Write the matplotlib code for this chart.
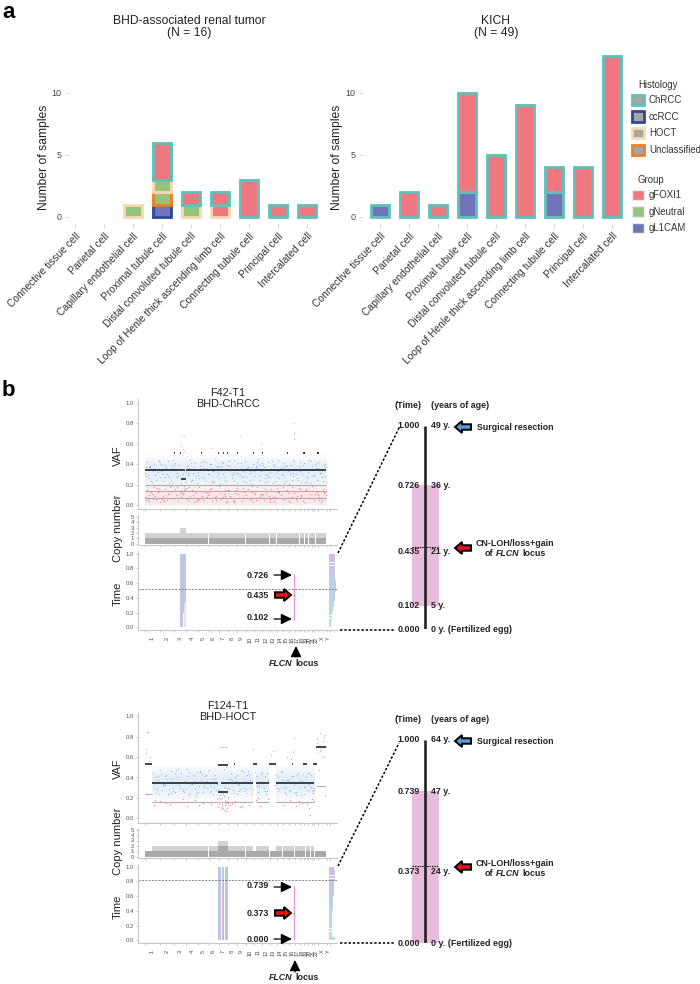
import matplotlib
matplotlib.use("Agg")
import numpy as np
import matplotlib.pyplot as plt
from matplotlib.patches import Patch, FancyArrow
from matplotlib.colors import LinearSegmentedColormap, to_rgb

plt.rcParams['font.family'] = ['Liberation Sans', 'DejaVu Sans']
W, H = 700, 984

# ---------- panel a data ----------
cell_types = ["Connective tissue cell", "Parietal cell", "Capillary endothelial cell",
              "Proximal tubule cell", "Distal convoluted tubule cell",
              "Loop of Henle thick ascending limb cell", "Connecting tubule cell",
              "Principal cell", "Intercalated cell"]
bhd_ccrcc_l1cam = [0, 0, 0, 1, 0, 0, 0, 0, 0]
bhd_unclass_neutral = [0, 0, 0, 1, 0, 0, 0, 0, 0]
bhd_hoct_neutral = [0, 0, 1, 1, 1, 0, 0, 0, 0]
bhd_hoct_foxi1 = [0, 0, 0, 0, 0, 1, 0, 0, 0]
bhd_chrcc_foxi1 = [0, 0, 0, 3, 1, 1, 3, 1, 1]
kich_chrcc_l1cam = [1, 0, 0, 2, 0, 0, 2, 0, 0]
kich_chrcc_foxi1 = [0, 2, 1, 8, 5, 9, 2, 4, 13]

hist_colors = {"ChRCC": "#62BFB8", "ccRCC": "#2B4A9B", "HOCT": "#F9D9B0", "Unclassified": "#EE7F22"}
group_colors = {"gFOXI1": "#F0767F", "gNeutral": "#93C47D", "gL1CAM": "#6F74B8"}

# ---------- panel b data ----------
chrom_names = [str(i) for i in range(1, 23)] + ["X", "Y"]
chrom_len = [249, 243, 198, 191, 181, 171, 159, 146, 141, 135, 135, 133,
             115, 107, 102, 90, 81, 78, 59, 63, 48, 51, 155, 59]

# haze levels per VAF bin (opacity of the dense clouds)
f42_blue_haze = [0, 0, 0, 0.02, 0.10, 0.16, 0.18, 0.16, 0.10, 0.01]
f42_red_haze = [0.10, 0.15, 0.12, 0.07, 0.0, 0, 0, 0, 0, 0]
f124_blue_haze = [0, 0, 0, 0.01, 0.08, 0.15, 0.18, 0.18, 0.13, 0.05]
f124_red_haze = [0, 0.005, 0.03, 0.04, 0.01, 0, 0, 0, 0, 0]

f42_blue_x = [12, 40, 66, 95, 120, 150, 180, 205, 232, 262, 285, 312, 340, 368, 395, 420, 450, 478, 505, 532,
              560, 600, 625, 650, 675, 700, 728, 755, 780, 812, 840, 868, 895, 925, 950, 978, 1005, 1030, 1060,
              1090, 1118, 1145, 1172, 1200, 1228, 1255, 1282, 1310, 1338, 1365, 1392, 1420, 1446, 1472, 1500,
              1528, 1555, 1580, 1610, 1638, 1665, 1692, 1720, 1748, 1775, 1802, 1830, 1858, 1885, 1912, 1940,
              1968, 1995, 2022, 2050, 2078, 2106, 2132, 2160, 2188, 2215, 2242, 2270, 2298, 2325, 2352, 2380,
              2408, 2435, 2462, 2490, 2518, 2545, 2572, 2600, 2628, 2655, 2682, 2710, 2738, 2765, 2792, 2820,
              2848, 2875, 2902, 2930, 2958, 2985, 3012, 25, 110, 245, 380, 515, 770, 905, 1075, 1210, 1345,
              1485, 1625, 1760, 1900, 2035, 2175, 2310, 2445, 2585, 2720, 2860, 2995]
f42_blue_y = [0.31, 0.42, 0.26, 0.37, 0.23, 0.40, 0.29, 0.35, 0.44, 0.27, 0.33, 0.24, 0.39, 0.30, 0.43, 0.26,
              0.36, 0.22, 0.41, 0.31, 0.28, 0.20, 0.26, 0.16, 0.23, 0.38, 0.29, 0.44, 0.25, 0.35, 0.41, 0.22,
              0.32, 0.38, 0.27, 0.43, 0.24, 0.36, 0.30, 0.40, 0.23, 0.33, 0.45, 0.28, 0.37, 0.21, 0.42, 0.30,
              0.25, 0.39, 0.34, 0.44, 0.26, 0.31, 0.38, 0.22, 0.41, 0.29, 0.35, 0.24, 0.43, 0.27, 0.37, 0.31,
              0.21, 0.40, 0.28, 0.36, 0.45, 0.25, 0.33, 0.39, 0.23, 0.30, 0.42, 0.27, 0.35, 0.22, 0.38, 0.31,
              0.44, 0.26, 0.36, 0.29, 0.41, 0.24, 0.33, 0.21, 0.39, 0.28, 0.43, 0.30, 0.25, 0.37, 0.23, 0.34,
              0.41, 0.27, 0.32, 0.44, 0.22, 0.38, 0.29, 0.36, 0.25, 0.42, 0.31, 0.27, 0.39, 0.23, 0.37, 0.24,
              0.43, 0.28, 0.35, 0.41, 0.26, 0.30, 0.38, 0.23, 0.44, 0.27, 0.33, 0.40, 0.29, 0.24, 0.37, 0.31,
              0.42, 0.26, 0.35, 0.40]
f42_blue_x2 = [30, 88, 135, 196, 250, 298, 355, 410, 465, 520, 572, 715, 768, 825, 880, 938,
               995, 1050, 1105, 1160, 1218, 1272, 1325, 1380, 1435, 1490, 1545, 1598, 1652, 1706, 1760, 1815,
               1870, 1925, 1980, 2035, 2090, 2145, 2200, 2255, 2310, 2365, 2420, 2475, 2530, 2585, 2640, 2695,
               2750, 2805, 2860, 2915, 2970, 3018, 55, 170, 275, 430, 610, 640, 745, 855, 1015, 1135,
               1240, 1405, 1515, 1680, 1790, 1950, 2060, 2225, 2340, 2455, 2610, 2775, 2890, 3005, 75, 225,
               330, 490, 660, 800, 965, 1120, 1300, 1460, 1640, 1850, 2010, 2120, 2280, 2500, 2660, 2830]
f42_blue_y2 = [.28, .38, .33, .25, .41, .30, .36, .22, .44, .27, .39, .31, .24, .37, .29, .42,
               .26, .34, .40, .23, .31, .38, .27, .43, .35, .24, .30, .41, .28, .36, .25, .33,
               .42, .29, .37, .24, .32, .40, .27, .35, .22, .38, .30, .44, .26, .33, .39, .23,
               .35, .28, .41, .31, .24, .37, .29, .35, .40, .24, .22, .30, .36, .28, .42, .33,
               .26, .38, .31, .23, .35, .41, .27, .33, .39, .25, .30, .43, .36, .28, .37, .32,
               .27, .39, .19, .31, .36, .24, .41, .29, .33, .38, .26, .43, .30, .35, .23, .40]
f42_red_x = [8, 42, 80, 118, 150, 190, 225, 262, 300, 335, 372, 410, 445, 480, 520, 558, 600, 640, 680, 712,
             750, 788, 825, 862, 900, 938, 975, 1012, 1050, 1088, 1125, 1162, 1200, 1238, 1275, 1312, 1350,
             1388, 1425, 1462, 1500, 1538, 1575, 1612, 1650, 1688, 1725, 1762, 1800, 1838, 1875, 1912, 1950,
             1988, 2025, 2062, 2110, 2148, 2185, 2222, 2260, 2298, 2335, 2372, 2410, 2448, 2485, 2522, 2560,
             2598, 2635, 2672, 2710, 2748, 2785, 2822, 2860, 2898, 2935, 2972, 3010, 60, 210, 320, 460, 610,
             730, 880, 1030, 1180, 1330, 1480, 1630, 1780, 1930, 2080, 2240, 2390, 2540, 2690, 2840, 2990]
f42_red_y = [0.08, 0.15, 0.04, 0.11, 0.18, 0.06, 0.13, 0.03, 0.09, 0.16, 0.05, 0.12, 0.19, 0.07, 0.10, 0.04,
             0.14, 0.11, 0.17, 0.06, 0.09, 0.15, 0.03, 0.12, 0.18, 0.07, 0.05, 0.13, 0.10, 0.16, 0.04, 0.08,
             0.14, 0.19, 0.06, 0.11, 0.03, 0.15, 0.09, 0.05, 0.12, 0.17, 0.07, 0.04, 0.13, 0.10, 0.16, 0.06,
             0.03, 0.11, 0.18, 0.08, 0.14, 0.05, 0.12, 0.09, 0.16, 0.04, 0.07, 0.13, 0.10, 0.18, 0.05, 0.15,
             0.03, 0.08, 0.12, 0.06, 0.17, 0.10, 0.04, 0.14, 0.07, 0.11, 0.19, 0.05, 0.13, 0.08, 0.03, 0.16,
             0.10, 0.06, 0.17, 0.04, 0.14, 0.08, 0.18, 0.05, 0.12, 0.09, 0.15, 0.03, 0.07, 0.19, 0.11, 0.06,
             0.13, 0.04, 0.09, 0.16, 0.07, 0.12]
f42_red_x2 = [25, 100, 170, 245, 318, 392, 465, 540, 620, 670, 730, 805, 880, 955, 1030, 1105,
              1180, 1255, 1330, 1405, 1480, 1555, 1630, 1705, 1780, 1855, 1930, 2005, 2080, 2155, 2230, 2305,
              2380, 2455, 2530, 2605, 2680, 2755, 2830, 2905, 2980, 70, 280, 505, 850, 1070, 1295, 1515,
              1745, 1965, 2195, 2425, 2650, 2880, 3015, 140, 425, 590, 955, 1370, 1820, 2120, 2580, 2945]
f42_red_y2 = [.05, .13, .09, .16, .04, .11, .07, .18, .12, .15, .04, .10, .06, .14, .08, .17,
              .05, .12, .09, .15, .04, .11, .17, .07, .13, .05, .10, .16, .03, .08, .14, .06,
              .12, .18, .04, .09, .15, .07, .11, .05, .13, .10, .06, .16, .04, .12, .08, .15,
              .05, .11, .17, .07, .03, .10, .14, .06, .18, .13, .09, .04, .12, .07, .16, .05]
f42_other_x = [2482, 2482, 2482, 2484, 1590, 1930, 1120, 620, 660, 600, 640, 650, 2470]
f42_other_y = [0.80, 0.72, 0.70, 0.65, 0.68, 0.61, 0.56, 0.68, 0.68, 0.58, 0.55, 0.53, 0.34]
f42_main_x0 = [0, 690]
f42_main_x1 = [670, 3020]
f42_main_y = [0.34, 0.34]
f42_cn_low_x0 = [600]
f42_cn_low_x1 = [690]
f42_cn_low_y = [0.255]
f42_sub_y = [0.20, 0.135, 0.07]
f42_dash_x = [494, 590, 938, 1227, 1310, 1376, 1532, 1809, 1948, 2364, 2642, 2650, 2864, 2875]
f42_dash_y = [0.51] * 14

f124_blue_x = [135, 160, 190, 220, 250, 285, 315, 350, 380, 412, 445, 478, 510, 545, 578, 610, 642, 675, 708,
               740, 772, 805, 838, 870, 902, 935, 968, 1000, 1032, 1065, 1098, 1130, 1162, 1195, 1225, 1245,
               1268, 1290, 1312, 1335, 1358, 1380, 1410, 1440, 1472, 1505, 1538, 1570, 1602, 1635, 1668, 1700,
               1732, 1765, 1795, 1860, 1890, 1922, 1955, 1988, 2020, 2055, 2190, 2222, 2255, 2288, 2320, 2352,
               2385, 2418, 2450, 2482, 2515, 2548, 2580, 2612, 2645, 2678, 2710, 2742, 2775, 2805, 200, 330,
               465, 600, 730, 860, 990, 1120, 1260, 1400, 1530, 1660, 1780, 1900, 2035, 2240, 2370, 2500, 2630,
               2760, 2860, 2880, 2900, 2920, 2940, 2960, 2980, 3000, 3015, 2870, 2910, 2950, 2990, 15, 40, 70,
               95, 30, 60, 1800, 1830, 2100, 2130, 2370, 2480, 2440]
f124_blue_y = [0.44, 0.30, 0.25, 0.38, 0.47, 0.28, 0.34, 0.42, 0.24, 0.36, 0.46, 0.30, 0.26, 0.40, 0.33, 0.44,
               0.27, 0.37, 0.48, 0.25, 0.35, 0.42, 0.29, 0.45, 0.32, 0.38, 0.26, 0.41, 0.30, 0.47, 0.35, 0.24,
               0.39, 0.28, 0.20, 0.16, 0.25, 0.14, 0.22, 0.18, 0.30, 0.21, 0.36, 0.44, 0.28, 0.40, 0.24, 0.33,
               0.47, 0.30, 0.38, 0.25, 0.43, 0.35, 0.28, 0.41, 0.26, 0.36, 0.45, 0.30, 0.24, 0.38, 0.42, 0.27,
               0.35, 0.46, 0.30, 0.24, 0.38, 0.28, 0.41, 0.33, 0.26, 0.44, 0.30, 0.37, 0.24, 0.40, 0.28, 0.34,
               0.42, 0.30, 0.30, 0.41, 0.27, 0.36, 0.45, 0.25, 0.33, 0.39, 0.19, 0.30, 0.42, 0.27, 0.36, 0.31,
               0.44, 0.29, 0.38, 0.26, 0.43, 0.31, 0.78, 0.64, 0.72, 0.84, 0.68, 0.76, 0.61, 0.82, 0.70, 0.74,
               0.66, 0.60, 0.80, 0.68, 0.85, 0.56, 0.60, 0.64, 0.85, 0.68, 0.45, 0.62, 0.66, 0.60, 0.67, 0.58]
f124_blue_x2 = [145, 205, 265, 330, 395, 460, 525, 590, 655, 720, 785, 850, 915, 980, 1045, 1110,
                1175, 1235, 1280, 1325, 1370, 1425, 1490, 1555, 1620, 1685, 1750, 1785, 1870, 1935, 2000, 2065,
                2200, 2265, 2330, 2395, 2460, 2525, 2590, 2655, 2720, 2785, 175, 300, 430, 560, 690, 820,
                950, 1080, 1210, 1300, 1455, 1590, 1725, 1905, 2040, 2215, 2345, 2490, 2605, 2735, 2810, 160,
                240, 370, 500, 630, 760, 890, 1020, 1150, 1250, 1345, 1520, 1650, 1775, 1880, 2010, 2170,
                2235, 2405, 2540, 2670, 2800, 225, 405, 575, 745, 915, 1085, 1385, 1565, 1700, 1965, 2305]
f124_blue_y2 = [.36, .28, .43, .33, .24, .39, .47, .30, .26, .41, .34, .22, .45, .31, .37, .27,
                .42, .28, .20, .31, .17, .39, .25, .34, .46, .29, .38, .24, .32, .43, .27, .36,
                .30, .45, .26, .35, .41, .23, .38, .31, .44, .27, .40, .33, .25, .48, .29, .37,
                .43, .26, .34, .24, .38, .29, .46, .33, .27, .40, .31, .36, .23, .44, .28, .35,
                .24, .39, .44, .29, .34, .26, .42, .31, .23, .15, .37, .45, .30, .26, .41, .33,
                .36, .27, .42, .31, .25, .41, .29, .35, .23, .46, .33, .39, .27, .42, .31, .38]
f124_red_x = [30, 150, 260, 420, 560, 700, 830, 970, 1100, 1215, 1240, 1265, 1290, 1315, 1340, 1365, 1385, 1420,
              1500, 1580, 1660, 1740, 1860, 1920, 1990, 2060, 2200, 2300, 2420, 2510, 2620, 2700, 2740, 2780,
              2810, 2900, 3000, 180, 350, 640, 900, 1250, 1300, 1350, 1450, 1620, 1880, 2560, 2752]
f124_red_y = [0.24, 0.13, 0.17, 0.14, 0.16, 0.12, 0.18, 0.15, 0.14, 0.11, 0.14, 0.09, 0.12, 0.08, 0.13, 0.10,
              0.15, 0.13, 0.17, 0.11, 0.16, 0.13, 0.18, 0.12, 0.16, 0.19, 0.16, 0.13, 0.18, 0.12, 0.15, 0.14,
              0.10, 0.19, 0.17, 0.47, 0.23, 0.18, 0.15, 0.19, 0.13, 0.16, 0.10, 0.07, 0.15, 0.12, 0.20, 0.17, 0.03]
f124_other_x = [1310, 1250, 1290, 1335, 1360, 1220, 1350, 1380, 2480, 2470, 1300, 1320]
f124_other_y = [0.70, 0.70, 0.70, 0.70, 0.70, 0.52, 0.50, 0.54, 0.79, 0.65, 0.56, 0.48]
f124_main_x0 = [128, 1271, 1854, 2181]
f124_main_x1 = [1227, 1798, 2070, 2819]
f124_main_y = [0.35, 0.35, 0.35, 0.35]
f124_cn_low_x0 = [1227, 2853]
f124_cn_low_x1 = [1382, 3019]
f124_cn_low_y = [0.26, 0.70]
f124_dash_x0 = [0, 1798, 2076, 2448, 2631, 2808, 1227, 1490]
f124_dash_x1 = [128, 1865, 2181, 2475, 2708, 2864, 1382, 1510]
f124_dash_y = [0.535, 0.535, 0.535, 0.535, 0.535, 0.535, 0.52, 0.535]
f124_sub_x0 = [0, 128, 1271, 1854, 2181, 2853]
f124_sub_x1 = [128, 1227, 1798, 2070, 2819, 3019]
f124_sub_y = [0.24, 0.16, 0.16, 0.16, 0.16, 0.32]

f42_cn_x0 = [0, 249, 492, 588, 690, 881, 1062, 1233, 1392, 1538, 1679, 1814, 1949, 2090, 2197, 2304, 2406,
             2500, 2577, 2660, 2730, 2790, 2850, 2890]
f42_cn_x1 = [247, 490, 586, 688, 879, 1060, 1231, 1390, 1536, 1677, 1812, 1947, 2076, 2190, 2295, 2400, 2496,
             2570, 2645, 2715, 2780, 2835, 2880, 3019]
f42_cn_total = [2, 2, 2, 3, 2, 2, 2, 2, 2, 2, 2, 2, 2, 2, 2, 2, 2, 2, 2, 2, 2, 2, 2, 2]
f42_cn_minor = [1] * 24

f124_cn_x0 = [0, 122, 249, 492, 690, 881, 1062, 1227, 1310, 1382, 1538, 1679, 1809, 1854, 1949, 2087, 2181,
              2300, 2420, 2500, 2590, 2680, 2760, 2830]
f124_cn_x1 = [120, 247, 490, 688, 879, 1060, 1225, 1300, 1380, 1536, 1677, 1807, 1852, 1947, 2070, 2178, 2290,
              2410, 2490, 2580, 2670, 2750, 2819, 3019]
f124_cn_total = [1, 2, 2, 2, 2, 2, 2, 3, 3, 2, 2, 2, 1, 2, 2, 1, 2, 2, 2, 2, 2, 2, 2, 1]
f124_cn_minor = [1, 1, 1, 1, 1, 1, 1, 2, 2, 1, 1, 1, 1, 1, 1, 1, 1, 1, 1, 1, 1, 1, 1, 1]

time_bins = [0.02, 0.06, 0.10, 0.14, 0.18, 0.22, 0.26, 0.30, 0.34, 0.38, 0.42, 0.46, 0.50, 0.54, 0.58, 0.62,
             0.66, 0.70, 0.74, 0.78, 0.82, 0.86, 0.90, 0.94, 0.98]
f42_wedge = [30, 35, 40, 48, 55, 62, 68, 74, 82, 90, 96, 104, 112, 115, 112, 108, 106, 104, 102, 100, 100, 100, 100, 100, 100]
f124_wedge = [95, 40, 42, 44, 46, 48, 50, 52, 54, 56, 58, 62, 66, 70, 72, 74, 78, 80, 84, 88, 90, 95, 98, 92, 80]

f42_track_x0 = [588, 638]
f42_track_x1 = [638, 688]
f42_track_lo = [0.0, 0.2]
f42_track_hi = [1.0, 1.0]
f42_pink_x0 = [655]
f42_pink_x1 = [688]
f42_pink_lo = [0.0]
f42_pink_hi = [0.33]
f124_track_x0 = [1227, 1282, 1337]
f124_track_x1 = [1271, 1326, 1382]
f124_track_lo = [0.0, 0.4, 0.0]
f124_track_hi = [1.0, 1.0, 1.0]
f124_pink_x0 = [1285]
f124_pink_x1 = [1312]
f124_pink_lo = [0.0]
f124_pink_hi = [0.75]

flcn_x = 2492
f42_flcn = [0.102, 0.435, 0.726]
f124_flcn = [0.0, 0.373, 0.739]
f42_dash_time = 0.52
f124_dash_time = 0.82

# positions on the drawn timelines
f42_bar_lo, f42_bar_hi, f42_bar_mid = 0.113, 0.709, 0.404
f124_bar_lo, f124_bar_hi, f124_bar_mid = 0.0, 0.749, 0.379

fig = plt.figure(figsize=(W / 100, H / 100), dpi=100, facecolor='white')


def axpx(l, t, r, b, **kw):
    return fig.add_axes([l / W, 1 - b / H, (r - l) / W, (b - t) / H], **kw)


# ---------- panel a ----------
ref_x = {68: 75, 362: 380}
A_W, A_T, A_B = 262, 44, 224


def style_a(ax, x0):
    for s in ax.spines.values():
        s.set_visible(False)
    ax.set_xlim((x0 - ref_x[x0]) / 29, (x0 + A_W - ref_x[x0]) / 29)
    ax.set_ylim(-7 / 12.4, (217 - A_T) / 12.4)
    ax.set_yticks([0, 5, 10])
    ax.set_xticks(range(9))
    ax.set_xticklabels(cell_types, rotation=46, ha='right', va='top', rotation_mode='anchor',
                       fontsize=7.4, color='#333333')
    ax.tick_params(axis='x', length=3, width=0.6, color='#cccccc', pad=2)
    ax.tick_params(axis='y', length=2.5, width=0.6, color='#cccccc', pad=2, labelsize=6.5, labelcolor='#444444')
    ax.patch.set_visible(False)


def stack(ax, layers):
    bottom = [0] * 9
    for hist, grp, vals in layers:
        ax.bar(range(9), vals, bottom=bottom, width=17.4 / 29, color=group_colors[grp],
               edgecolor=[hist_colors[hist] if v else 'none' for v in vals], linewidth=2.05)
        bottom = [b + v for b, v in zip(bottom, vals)]


ax_l = axpx(68, A_T, 68 + A_W, A_B)
stack(ax_l, [("ccRCC", "gL1CAM", bhd_ccrcc_l1cam), ("Unclassified", "gNeutral", bhd_unclass_neutral),
             ("HOCT", "gNeutral", bhd_hoct_neutral), ("HOCT", "gFOXI1", bhd_hoct_foxi1),
             ("ChRCC", "gFOXI1", bhd_chrcc_foxi1)])
style_a(ax_l, 68)
ax_l.set_ylabel("Number of samples", fontsize=8.7, color='#222222')
ax_l.yaxis.set_label_coords((50 - 68) / A_W, (A_B - 157) / (A_B - A_T))

ax_r = axpx(362, A_T, 362 + A_W, A_B)
stack(ax_r, [("ChRCC", "gL1CAM", kich_chrcc_l1cam), ("ChRCC", "gFOXI1", kich_chrcc_foxi1)])
style_a(ax_r, 362)
ax_r.set_ylabel("Number of samples", fontsize=8.7, color='#222222')
ax_r.yaxis.set_label_coords((343 - 362) / A_W, (A_B - 157) / (A_B - A_T))

hist_handles = [Patch(facecolor='#A6A6A6', edgecolor=c, linewidth=2.0, label=k) for k, c in hist_colors.items()]
group_handles = [Patch(facecolor=c, edgecolor='#EDEDED', linewidth=1.0, label=k) for k, c in group_colors.items()]
for handles, top in ((hist_handles, 94.5), (group_handles, 189.5)):
    fig.legend(handles=handles, loc='upper left', bbox_to_anchor=(632 / W, 1 - top / H), frameon=False,
               fontsize=6.9, borderpad=0, borderaxespad=0, handlelength=1.3, handleheight=1.3,
               handletextpad=0.45, labelspacing=0.66, labelcolor='#333333')


# ---------- panel b axes ----------
chrom_start = [sum(chrom_len[:i]) for i in range(24)]
chrom_mid = [s + l / 2 for s, l in zip(chrom_start, chrom_len)]
bounds = chrom_start + [sum(chrom_len)]
XL = (-116, 3200)
wedge_cmap = LinearSegmentedColormap.from_list('w', ['#A8DDB0', '#A8D4D8', '#A6C8E6', '#B8B8E0', '#CBA4D8'])
BLUE, RED = '#5B9BD5', '#E8414A'


def style_b(ax, ylim, yticks, show_x=False):
    ax.set_xlim(*XL)
    ax.set_ylim(*ylim)
    ax.set_yticks(yticks)
    ax.set_xticks(chrom_mid)
    ax.set_xticks(bounds, minor=True)
    ax.tick_params(axis='x', which='major', length=0, pad=4.5)
    ax.tick_params(axis='x', which='minor', length=1.5, width=0.4, color='#999999')
    ax.tick_params(axis='y', length=1.5, width=0.4, color='#999999', pad=1, labelsize=4.3, labelcolor='#555555')
    if show_x:
        ax.set_xticklabels(chrom_names, rotation=90, fontsize=4, color='#444444', ha='center', va='top')
    else:
        ax.set_xticklabels([])
    for s in ('top', 'right'):
        ax.spines[s].set_visible(False)
    for s in ('left', 'bottom'):
        ax.spines[s].set_color('#C8C8C8')
        ax.spines[s].set_linewidth(0.8)


def label_b(ax, text, y_px, t, b):
    ax.set_ylabel(text, fontsize=8, color='#222222')
    ax.yaxis.set_label_coords((123 - 137.7) / 199.3, (b - y_px) / (b - t))


def haze(ax, levels, color, spans):
    rgba = np.zeros((len(levels), 2, 4))
    rgba[:, :, :3] = to_rgb(color)
    rgba[:, :, 3] = np.array(levels)[:, None]
    for x0, x1 in spans:
        ax.imshow(rgba, extent=(x0, x1, 0, 0.5), origin='lower', aspect='auto',
                  interpolation='bicubic', interpolation_stage='rgba', zorder=0)


def panel(cfg):
    v = axpx(137.7, cfg['v_t'], 337, cfg['v_b'])
    haze(v, cfg['blue_haze'], BLUE, cfg['spans'])
    haze(v, cfg['red_haze'], RED, cfg['spans'])
    v.scatter(cfg['blue_x'], cfg['blue_y'], s=0.9, c=BLUE, lw=0, alpha=0.6)
    v.scatter(cfg['red_x'], cfg['red_y'], s=0.9, c=RED, lw=0, alpha=0.6)
    v.scatter(cfg['other_x'], cfg['other_y'], s=0.7, c='#88B888', lw=0, alpha=0.8)
    v.hlines(cfg['sub_y'], cfg['sub_x0'], cfg['sub_x1'], color='#A89C9C', lw=0.6)
    v.hlines(cfg['main_y'], cfg['main_x0'], cfg['main_x1'], color='#3A3F44', lw=1.4)
    v.hlines(cfg['low_y'], cfg['low_x0'], cfg['low_x1'], color='#111111', lw=1.1)
    v.hlines(cfg['dash_y'], cfg['dash_x0'], cfg['dash_x1'], color='#111111', lw=1.1)
    style_b(v, (-(cfg['v_b'] - cfg['v_0']) / 102, (cfg['v_0'] - cfg['v_t']) / 102), [0, .2, .4, .6, .8, 1])
    v.yaxis.set_major_formatter('{x:.1f}')
    label_b(v, 'VAF', cfg['v_c'], cfg['v_t'], cfg['v_b'])

    c = axpx(137.7, cfg['c_t'], 337, cfg['c_b'])
    widths = [b - a for a, b in zip(cfg['cn_x0'], cfg['cn_x1'])]
    c.bar(cfg['cn_x0'], cfg['cn_total'], width=widths, align='edge', color='#D2D2D2', lw=0)
    c.bar(cfg['cn_x0'], cfg['cn_minor'], width=widths, align='edge', color='#A9A9A9', lw=0)
    style_b(c, (-(cfg['c_b'] - cfg['c_0']) / 5.4, (cfg['c_0'] - cfg['c_t']) / 5.4), [0, 1, 2, 3, 4, 5])
    label_b(c, 'Copy number', cfg['c_c'], cfg['c_t'], cfg['c_b'])

    t = axpx(137.7, cfg['t_t'], 337, cfg['t_b'])
    t.barh(time_bins, cfg['wedge'], left=3069, height=0.038, lw=0,
           color=[wedge_cmap(b) for b in time_bins], alpha=0.8)
    for x0, x1, lo, hi in zip(cfg['tr_x0'], cfg['tr_x1'], cfg['tr_lo'], cfg['tr_hi']):
        t.bar(x0, hi - lo, bottom=lo, width=x1 - x0, align='edge', color='#BCC7E4', lw=0)
    for x0, x1, lo, hi in zip(cfg['pk_x0'], cfg['pk_x1'], cfg['pk_lo'], cfg['pk_hi']):
        t.bar(x0, hi - lo, bottom=lo, width=x1 - x0, align='edge', color=cfg['pk_col'], lw=0)
    t.axhline(cfg['dash_time'], color='#777777', lw=0.6, ls=(0, (2.5, 1.5)))
    t.vlines(flcn_x, cfg['flcn'][0], cfg['flcn'][2], color='#E79AD6', lw=1.0)
    t.scatter([flcn_x], [cfg['flcn'][1]], s=1, c='#888888', lw=0, zorder=4)
    style_b(t, (-(cfg['t_b'] - cfg['t_0']) / 73.6, (cfg['t_0'] - cfg['t_t']) / 73.6), [0, .2, .4, .6, .8, 1], True)
    t.yaxis.set_major_formatter('{x:.1f}')
    label_b(t, 'Time', cfg['t_c'], cfg['t_t'], cfg['t_b'])

    # timeline schematic
    s = axpx(412, cfg['s_top'], 439, cfg['s_bot'])
    s.bar(0.5, cfg['bar_hi'] - cfg['bar_lo'], bottom=cfg['bar_lo'], width=1, color='#E9BBDC', lw=0)
    s.hlines(cfg['bar_mid'], 0, 1, color='black', lw=0.8, ls=(0, (1.2, 1)))
    s.vlines(0.48, 0, 1, color='#222222', lw=1.9)
    s.set_xlim(0, 1)
    s.set_ylim(0, 1)
    s.axis('off')


panel(dict(v_t=399, v_b=509, v_0=505, v_c=456, c_t=515, c_b=544.5, c_0=543.7, c_c=528, t_t=551, t_b=630.3, t_0=627.3,
           t_c=594, spans=[(0, 3020)], blue_haze=f42_blue_haze, red_haze=f42_red_haze,
           blue_x=f42_blue_x + f42_blue_x2, blue_y=f42_blue_y + f42_blue_y2,
           red_x=f42_red_x + f42_red_x2, red_y=f42_red_y + f42_red_y2,
           other_x=f42_other_x, other_y=f42_other_y,
           sub_y=f42_sub_y, sub_x0=[0, 0, 0], sub_x1=[3020, 3020, 3020],
           main_y=f42_main_y, main_x0=f42_main_x0, main_x1=f42_main_x1,
           low_y=f42_cn_low_y, low_x0=f42_cn_low_x0, low_x1=f42_cn_low_x1,
           dash_y=f42_dash_y, dash_x0=f42_dash_x, dash_x1=[x + 18 for x in f42_dash_x],
           cn_x0=f42_cn_x0, cn_x1=f42_cn_x1, cn_total=f42_cn_total, cn_minor=f42_cn_minor,
           wedge=f42_wedge, tr_x0=f42_track_x0, tr_x1=f42_track_x1, tr_lo=f42_track_lo, tr_hi=f42_track_hi,
           pk_x0=f42_pink_x0, pk_x1=f42_pink_x1, pk_lo=f42_pink_lo, pk_hi=f42_pink_hi, pk_col='#F6D6E8',
           dash_time=f42_dash_time, flcn=f42_flcn, s_top=426, s_bot=629,
           bar_lo=f42_bar_lo, bar_hi=f42_bar_hi, bar_mid=f42_bar_mid))
panel(dict(v_t=713, v_b=822.7, v_0=818.3, v_c=769, c_t=829, c_b=857.7, c_0=856.7, c_c=841, t_t=864, t_b=943.3, t_0=940.3,
           t_c=907, spans=[(128, 1798), (1854, 2070), (2181, 2819)], blue_haze=f124_blue_haze, red_haze=f124_red_haze,
           blue_x=f124_blue_x + f124_blue_x2, blue_y=f124_blue_y + f124_blue_y2,
           red_x=f124_red_x, red_y=f124_red_y,
           other_x=f124_other_x, other_y=f124_other_y,
           sub_y=f124_sub_y, sub_x0=f124_sub_x0, sub_x1=f124_sub_x1,
           main_y=f124_main_y, main_x0=f124_main_x0, main_x1=f124_main_x1,
           low_y=f124_cn_low_y, low_x0=f124_cn_low_x0, low_x1=f124_cn_low_x1,
           dash_y=f124_dash_y, dash_x0=f124_dash_x0, dash_x1=f124_dash_x1,
           cn_x0=f124_cn_x0, cn_x1=f124_cn_x1, cn_total=f124_cn_total, cn_minor=f124_cn_minor,
           wedge=f124_wedge, tr_x0=f124_track_x0, tr_x1=f124_track_x1, tr_lo=f124_track_lo, tr_hi=f124_track_hi,
           pk_x0=f124_pink_x0, pk_x1=f124_pink_x1, pk_lo=f124_pink_lo, pk_hi=f124_pink_hi, pk_col='#E2A8D6',
           dash_time=f124_dash_time, flcn=f124_flcn, s_top=740, s_bot=943,
           bar_lo=f124_bar_lo, bar_hi=f124_bar_hi, bar_mid=f124_bar_mid))

# ---------- overlay: titles, annotations, arrows ----------
ov = axpx(0, 0, W, H, zorder=20)
ov.set_xlim(0, W)
ov.set_ylim(H, 0)
ov.axis('off')
ov.patch.set_visible(False)


def T(x, y, s, size=8, ha='center', weight='normal', style='normal', color='#222222'):
    ov.text(x, y, s, fontsize=size, ha=ha, va='center', fontweight=weight, fontstyle=style, color=color)


T(2, 12, 'a', 16, 'left', 'bold', color='black')
T(2, 390, 'b', 16, 'left', 'bold', color='black')
T(189, 20.5, 'BHD-associated renal tumor', 8.7)
T(189, 33, '(N = 16)', 8.7)
T(496, 20.5, 'KICH', 8.7)
T(496, 33, '(N = 49)', 8.7)
T(638, 85, 'Histology', 6.9, 'left', color='#333333')
T(638, 180, 'Group', 6.9, 'left', color='#333333')

T(228, 393, 'F42-T1', 7.8)
T(228, 404, 'BHD-ChRCC', 7.8)
T(228, 706, 'F124-T1', 7.8)
T(228, 717, 'BHD-HOCT', 7.8)


def thin_arrow(x0, y0, x1, y1):
    ov.annotate('', xy=(x1, y1), xytext=(x0, y0),
                arrowprops=dict(arrowstyle='-|>,head_length=0.55,head_width=0.27', color='black', lw=0.9,
                                shrinkA=0, shrinkB=0, mutation_scale=12))


def block_arrow(x0, x1, y, col):
    ov.add_patch(FancyArrow(x0, y, x1 - x0, 0, width=5.5, head_width=12, head_length=7,
                            length_includes_head=True, fc=col, ec='black', lw=1.4, joinstyle='miter'))


def annots(vals, ys, arrow_ys, flcn_arrow, flcn_y):
    for (txt, y, ay, i) in zip(vals, ys, arrow_ys, range(3)):
        T(258, y, txt, 6.4, 'center', 'bold', color='#222222')
        if i == 1:
            block_arrow(275, 291, ay, '#E8101A')
        else:
            thin_arrow(274, ay, 292, ay)
    thin_arrow(flcn_arrow[0], flcn_arrow[1], flcn_arrow[0], flcn_arrow[2])
    T(292, flcn_y, 'FLCN', 6.4, 'right', 'bold', 'italic')
    T(295, flcn_y, 'locus', 6.4, 'left', 'bold')


annots(['0.102', '0.435', '0.726'], [617, 595, 575], [619, 595, 575], (296, 657, 646), 664)
annots(['0.000', '0.373', '0.739'], [939, 913, 886], [939, 913, 887], (295, 972, 960), 978)


def right(head_y, rows, blue_y, red_y, cn_y, conn):
    T(408, head_y, '(Time)', 6.4, 'center', 'bold')
    T(431, head_y, '(years of age)', 6.4, 'left', 'bold')
    for y, a, b in rows:
        T(420, y, a, 6.4, 'right', 'bold')
        T(431, y, b, 6.4, 'left', 'bold')
    block_arrow(471, 455, blue_y, '#5B9BD0')
    block_arrow(471, 455, red_y, '#E8101A')
    T(477, blue_y + 1, 'Surgical resection', 6.3, 'left', 'bold')
    T(515, cn_y, 'CN-LOH/loss+gain', 6.4, 'center', 'bold')
    T(485, cn_y + 11, 'of', 6.4, 'left', 'bold')
    T(496, cn_y + 11, 'FLCN', 6.4, 'left', 'bold', 'italic')
    T(522, cn_y + 11, 'locus', 6.4, 'left', 'bold')
    (x0, y0, x1, y1, y2, x3) = conn
    ov.plot([x0, x1], [y0, y1], color='black', lw=1.1, ls=(0, (1.6, 1.2)))
    ov.plot([x0 + 2, x3], [y2, y2], color='black', lw=1.1, ls=(0, (1.6, 1.2)))


right(406, [(426, '1.000', '49 y.'), (485, '0.726', '36 y.'), (552, '0.435', '21 y.'), (606, '0.102', '5 y.'),
            (630, '0.000', '0 y. (Fertilized egg)')], 427, 548, 543, (338, 553, 399, 428, 630, 395))
right(719, [(740, '1.000', '64 y.'), (791, '0.739', '47 y.'), (871, '0.373', '24 y.'),
            (943, '0.000', '0 y. (Fertilized egg)')], 741, 867, 863, (338, 866, 399, 743, 943, 395))

fig.savefig('out.png', dpi=100, facecolor='white')
